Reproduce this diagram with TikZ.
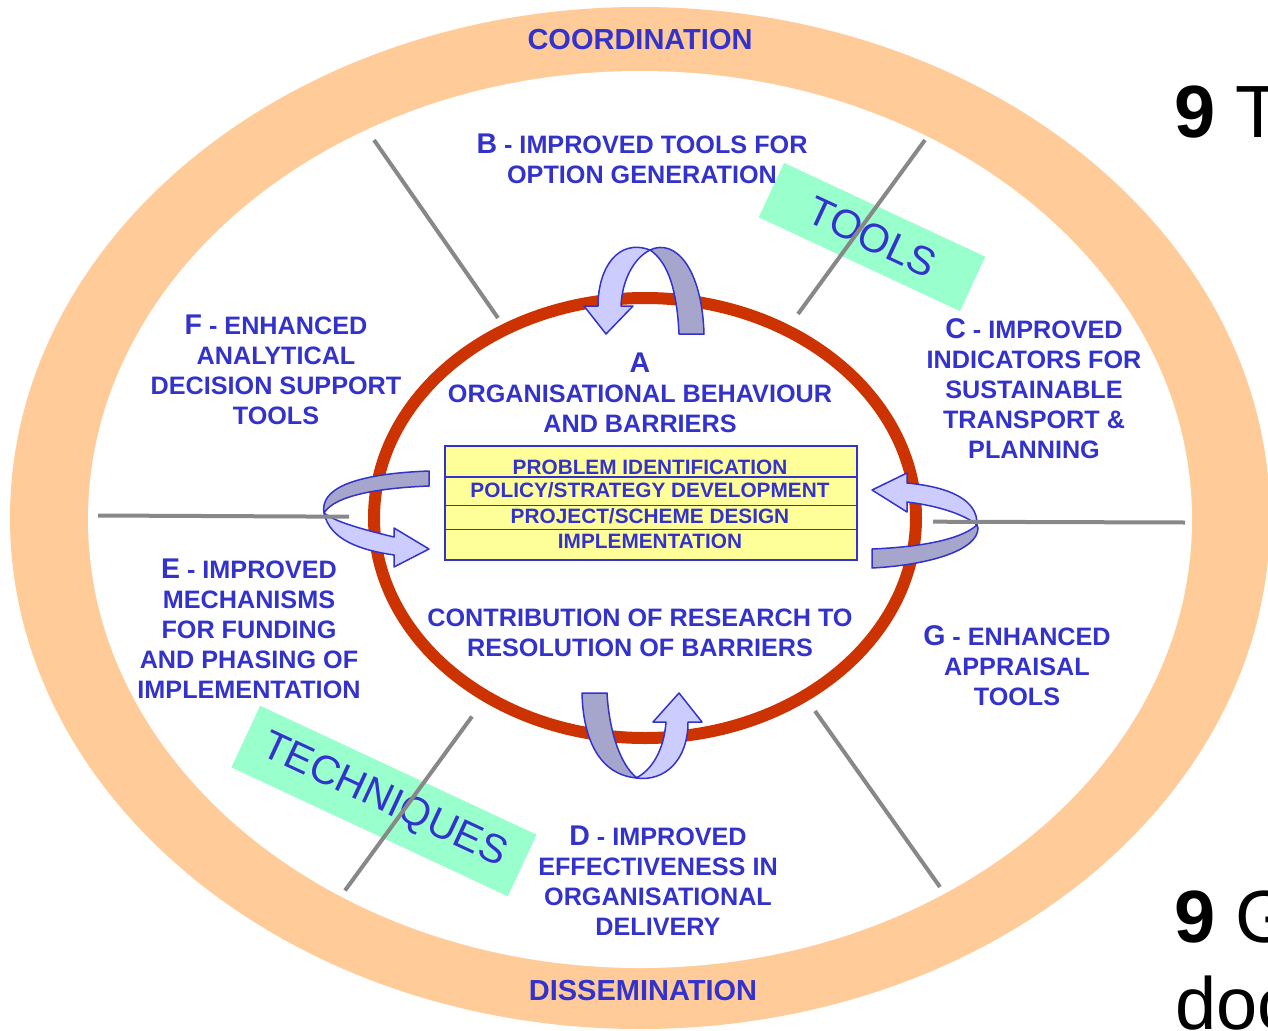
\documentclass[tikz,border=0pt]{standalone}
\usepackage{fontspec}
\setmainfont{Liberation Sans}
\definecolor{ringorange}{HTML}{FFCC99}
\definecolor{txtblue}{HTML}{3333CC}
\definecolor{redring}{HTML}{CC3300}
\definecolor{mint}{HTML}{99FFCC}
\definecolor{boxyellow}{HTML}{FFFF99}
\definecolor{lightband}{HTML}{CCCCFF}
\definecolor{darkband}{HTML}{A6A6CC}
\definecolor{divgray}{HTML}{888888}
\newcommand\capL[1]{{\fontsize{28.5}{30}\selectfont #1}}
\begin{document}
\begin{tikzpicture}[x=1pt,y=-1pt,
  lab/.style={text=txtblue, font=\bfseries\fontsize{25.2}{30}\selectfont, align=center, inner sep=0pt},
  ringlab/.style={text=txtblue, font=\bfseries\fontsize{29}{32}\selectfont, inner sep=0pt},
  boxtext/.style={text=txtblue, font=\bfseries\fontsize{20.8}{24}\selectfont, inner sep=0pt},
  tag/.style={fill=mint, text=txtblue, font=\fontsize{40.5}{44}\selectfont, inner sep=0pt},
  divider/.style={draw=divgray, line width=4pt},
  band/.style={draw=txtblue, line width=1.5pt, line join=round},
  slide/.style={text=black, font=\fontsize{74}{80}\selectfont, inner sep=0pt, anchor=base west}]
\useasboundingbox (0,0) rectangle (1268,1030);
\clip (0,0) rectangle (1268,1030);
\fill[white] (0,0) rectangle (1268,1030);
% rings
\fill[ringorange] (640,518) ellipse [x radius=630pt, y radius=511pt];
\fill[white] (640,519.5) ellipse [x radius=552pt, y radius=448.5pt];
\node[ringlab] (coord) at (640,39.5) {COORDINATION};
\node[ringlab] (dissem) at (643,991) {DISSEMINATION};
% green tags
\node[tag, minimum width=222pt, minimum height=60pt, rotate=-25] (tools) at (872,237) {TOOLS};
\node[tag, minimum width=305pt, minimum height=68pt, rotate=-25] (techn) at (384,801) {TECHNIQUES};
% red ellipse
\draw[redring, line width=12pt] (645,518) ellipse [x radius=271pt, y radius=220pt];
% central box
\node[draw=txtblue, line width=1.3pt, fill=boxyellow, minimum width=412pt, minimum height=114pt, inner sep=0pt] (box) at (651,503) {};
\draw[txtblue, line width=1.3pt] (445,477) -- (857,477) (445,505.5) -- (857,505.5) (445,529.3) -- (857,529.3);
\node[boxtext] (r1) at (650,467) {PROBLEM IDENTIFICATION};
\node[boxtext] (r2) at (650,490.5) {POLICY/STRATEGY DEVELOPMENT};
\node[boxtext] (r3) at (650,515.7) {PROJECT/SCHEME DESIGN};
\node[boxtext] (r4) at (650,541) {IMPLEMENTATION};
% labels
\node[lab] (labB) at (642,158.5) {\capL{B} - IMPROVED TOOLS FOR\\OPTION GENERATION};
\node[lab] (labF) at (276,369.5) {\capL{F} - ENHANCED\\ANALYTICAL\\DECISION SUPPORT\\TOOLS};
\node[lab] (labA) at (640,392.5) {\capL{A}\\ORGANISATIONAL BEHAVIOUR\\AND BARRIERS};
\node[lab] (labC) at (1034,389) {\capL{C} - IMPROVED\\INDICATORS FOR\\SUSTAINABLE\\TRANSPORT \&\\PLANNING};
\node[lab] (labE) at (249,628.5) {\capL{E} - IMPROVED\\MECHANISMS\\FOR FUNDING\\AND PHASING OF\\IMPLEMENTATION};
\node[lab] (labR) at (640,632.5) {CONTRIBUTION OF RESEARCH TO\\RESOLUTION OF BARRIERS};
\node[lab] (labG) at (1017,666) {\capL{G} - ENHANCED\\APPRAISAL\\TOOLS};
\node[lab] (labD) at (658,880.5) {\capL{D} - IMPROVED\\EFFECTIVENESS IN\\ORGANISATIONAL\\DELIVERY};
% top arrow
\filldraw[band, fill=darkband] (650,250) .. controls (675,238) and (702,268) .. (704,334) -- (679,334) .. controls (677,290) and (668,262) .. (650,250) -- cycle;
\filldraw[band, fill=lightband] (650,250) .. controls (618,238) and (598,268) .. (598,306) -- (584,306) -- (606,334) -- (633,306) -- (621,306) .. controls (622,280) and (634,258) .. (650,250) -- cycle;
% left arrow
\filldraw[band, fill=darkband] (429,471) -- (429,486) .. controls (380,488) and (335,495) .. (324,513) .. controls (320,490) and (350,474) .. (429,471) -- cycle;
\filldraw[band, fill=lightband] (324,513) .. controls (330,540) and (360,550) .. (394,555) -- (394,567) -- (429,549) -- (394,528) -- (394,537) .. controls (365,530) and (335,522) .. (324,513) -- cycle;
% right arrow
\filldraw[band, fill=darkband] (977,525) .. controls (960,540) and (920,547) .. (872,549) -- (872,568) .. controls (930,565) and (978,550) .. (978,528) -- cycle;
\filldraw[band, fill=lightband] (907,483) .. controls (950,487) and (978,500) .. (977,525) .. controls (965,515) and (940,506) .. (907,502) -- (907,512) -- (872,490) -- (907,473) -- cycle;
% bottom arrow
\filldraw[band, fill=darkband] (582,693) -- (607,693) .. controls (609,730) and (620,765) .. (637,778) .. controls (600,775) and (583,740) .. (582,693) -- cycle;
\filldraw[band, fill=lightband] (636,778) .. controls (665,782) and (688,760) .. (688,722) -- (702,722) -- (679,693) -- (653,722) -- (666,722) .. controls (664,750) and (652,770) .. (636,778) -- cycle;
% dividers
\coordinate (d1a) at (374,140); \coordinate (d1b) at (498,318);
\coordinate (d2a) at (925,140); \coordinate (d2b) at (798,314);
\coordinate (d3a) at (98,515.5); \coordinate (d3b) at (349,516.7);
\coordinate (d4a) at (933,521.7); \coordinate (d4b) at (1185,522.5);
\coordinate (d5a) at (472,716.5); \coordinate (d5b) at (345,890.5);
\coordinate (d6a) at (815,711); \coordinate (d6b) at (940,887);
\draw[divider] (d1a) -- (d1b);
\draw[divider] (d2a) -- (d2b);
\draw[divider] (d3a) -- (d3b);
\draw[divider] (d4a) -- (d4b);
\draw[divider] (d5a) -- (d5b);
\draw[divider] (d6a) -- (d6b);
% slide text at right edge
\node[slide] (s1) at (1174,138) {\textbf{9} T};
\node[slide] (s2) at (1174,942) {\textbf{9} G};
\node[slide] (s3) at (1175,1029) {doc};
\end{tikzpicture}
\end{document}
